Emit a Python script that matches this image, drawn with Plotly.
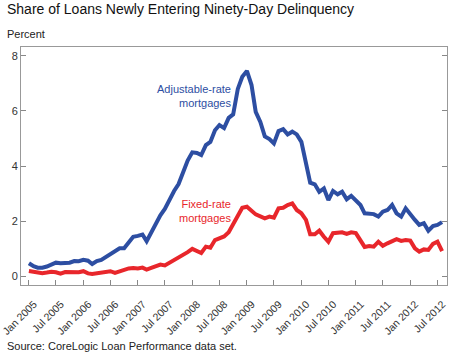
import pandas as pd
import plotly.graph_objects as go

months = pd.date_range("2005-01-01", periods=92, freq="MS")

adjustable_rate = [
    0.48, 0.37, 0.32, 0.32, 0.36, 0.44, 0.50, 0.48, 0.48, 0.50,
    0.56, 0.55, 0.60, 0.57, 0.45, 0.56, 0.60, 0.70, 0.80, 0.92,
    1.02, 1.02, 1.25, 1.44, 1.47, 1.52, 1.28, 1.60, 1.85, 2.22,
    2.45, 2.80, 3.10, 3.35, 3.80, 4.20, 4.50, 4.48, 4.40, 4.76,
    4.88, 5.30, 5.49, 5.38, 5.75, 5.88, 6.80, 7.24, 7.45, 6.94,
    5.97, 5.60, 5.08, 4.98, 4.82, 5.27, 5.34, 5.15, 5.25, 5.15,
    4.88, 4.10, 3.40, 3.34, 3.07, 3.19, 2.77, 3.10, 2.98, 3.07,
    2.80, 2.92, 2.77, 2.59, 2.29, 2.27, 2.26, 2.17, 2.35, 2.41,
    2.59, 2.29, 2.17, 2.47, 2.23, 2.05, 1.87, 1.93, 1.66, 1.83,
    1.87, 1.97,
]

fixed_rate = [
    0.20, 0.18, 0.14, 0.12, 0.14, 0.17, 0.15, 0.10, 0.16, 0.15,
    0.15, 0.15, 0.19, 0.11, 0.09, 0.11, 0.13, 0.15, 0.19, 0.13,
    0.18, 0.25, 0.29, 0.31, 0.29, 0.32, 0.25, 0.31, 0.37, 0.43,
    0.40, 0.50, 0.60, 0.66, 0.76, 0.88, 1.00, 0.92, 0.85, 1.08,
    1.04, 1.32, 1.38, 1.45, 1.60, 1.90, 2.20, 2.49, 2.53, 2.40,
    2.25, 2.18, 2.11, 2.17, 2.13, 2.47, 2.49, 2.59, 2.65, 2.41,
    2.29, 2.05, 1.53, 1.53, 1.66, 1.44, 1.26, 1.57, 1.59, 1.60,
    1.54, 1.60, 1.57, 1.32, 1.07, 1.10, 1.08, 1.26, 1.11, 1.20,
    1.26, 1.35, 1.29, 1.32, 1.30, 1.02, 0.90, 0.98, 0.96, 1.18,
    1.26, 0.92,
]

tick_dates = pd.date_range("2005-01-01", "2012-07-01", freq="6MS")
tick_labels = [d.strftime("%b %Y") for d in tick_dates]
y_ticks = [0, 2, 4, 6, 8]

BLUE = "#2D4EA2"
RED = "#E8262B"
FONT = "Arial, Liberation Sans, sans-serif"

fig = go.Figure()
fig.add_trace(go.Scatter(x=months, y=adjustable_rate, mode="lines",
                         line=dict(color=BLUE, width=4), name="Adjustable-rate mortgages"))
fig.add_trace(go.Scatter(x=months, y=fixed_rate, mode="lines",
                         line=dict(color=RED, width=4), name="Fixed-rate mortgages"))

fig.update_layout(
    width=450, height=362,
    margin=dict(l=21, r=3, t=47, b=77),
    paper_bgcolor="white", plot_bgcolor="white",
    showlegend=False,
    font=dict(family=FONT, size=11, color="#222"),
    xaxis=dict(
        range=["2004-11-09", "2012-09-03"],
        tickvals=tick_dates, ticktext=tick_labels, tickangle=-45,
        ticks="inside", ticklen=5, tickcolor="#888",
        showline=True, linecolor="#999", linewidth=1, mirror=True,
        showgrid=False, zeroline=False, automargin=False,
        ticklabeloverflow="allow", ticklabelstandoff=8, ticklabelshift=5,
        tickfont=dict(size=10.5, color="#333"),
    ),
    yaxis=dict(
        range=[-0.31, 8.32],
        tickvals=y_ticks,
        ticks="inside", ticklen=5, tickcolor="#888",
        showline=True, linecolor="#999", linewidth=1, mirror="ticks",
        showgrid=False, zeroline=False, automargin=False,
        ticklabeloverflow="allow",
        tickfont=dict(size=11, color="#333"),
    ),
)

fig.add_annotation(xref="paper", yref="paper", x=-0.038, y=1.0, yshift=38,
                   text="Share of Loans Newly Entering Ninety-Day Delinquency",
                   showarrow=False, xanchor="left", yanchor="middle",
                   font=dict(size=14, color="#111"))
fig.add_annotation(xref="paper", yref="paper", x=-0.038, y=1.0, yshift=13,
                   text="Percent", showarrow=False, xanchor="left", yanchor="middle",
                   font=dict(size=11, color="#222"))
fig.add_annotation(xref="paper", yref="paper", x=-0.038, y=0.0, yshift=-61,
                   text="Source: CoreLogic Loan Performance data set.",
                   showarrow=False, xanchor="left", yanchor="middle",
                   font=dict(size=11, color="#222"))
fig.add_annotation(x="2008-10-01", y=6.54, text="Adjustable-rate<br>mortgages",
                   showarrow=False, xanchor="right", align="right",
                   font=dict(size=11, color=BLUE))
fig.add_annotation(x="2008-10-01", y=2.37, text="Fixed-rate<br>mortgages",
                   showarrow=False, xanchor="right", align="right",
                   font=dict(size=11, color=RED))

fig.write_html("out.html", config={"displayModeBar": False},
               post_script="document.body.style.margin='0';document.body.style.padding='0';")
